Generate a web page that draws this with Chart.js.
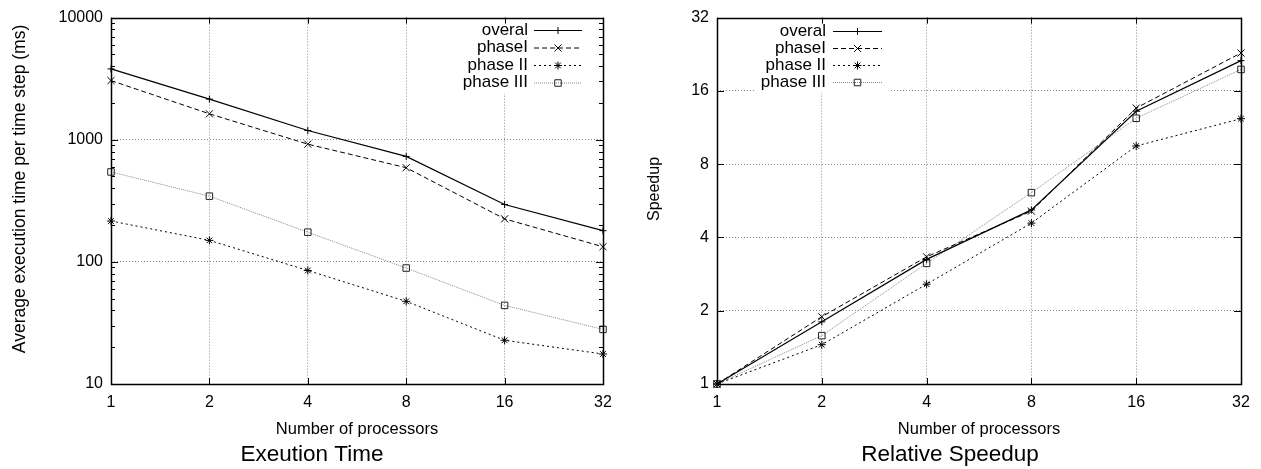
<!DOCTYPE html>
<html><head><meta charset="utf-8">
<script src="https://cdn.jsdelivr.net/npm/chart.js@4/dist/chart.umd.min.js"></script>
<style>
html,body{margin:0;padding:0;background:#fff;width:1261px;height:469px;overflow:hidden}
canvas{position:absolute;top:0}
#c1{left:0}
#c2{left:640px}
</style></head><body>
<canvas id="c1" width="640" height="469" style="width:640px;height:469px"></canvas>
<canvas id="c2" width="621" height="469" style="width:621px;height:469px"></canvas>
<script>
// ---------- data ----------
const processors = ['1', '2', '4', '8', '16', '32'];
const seriesNames = ['overal', 'phaseI', 'phase II', 'phase III'];

const timeOverall  = [3800, 2150, 1190, 730, 295, 180];
const timePhaseI   = [3050, 1630, 920, 590, 225, 133];
const timePhaseII  = [216, 150, 85, 47.5, 22.8, 17.6];
const timePhaseIII = [545, 345, 175, 89, 44, 28];

const speedupOverall  = [1, 1.80, 3.25, 5.19, 13.2, 21.3];
const speedupPhaseI   = [1, 1.89, 3.33, 5.13, 13.6, 22.9];
const speedupPhaseII  = [1, 1.45, 2.57, 4.58, 9.5, 12.3];
const speedupPhaseIII = [1, 1.58, 3.13, 6.11, 12.35, 19.6];

const timeTicks = [10, 100, 1000, 10000];
const speedupTicks = [1, 2, 4, 8, 16, 32];

// ---------- styles ----------
const FONT = '"Liberation Sans", Arial, Helvetica, sans-serif';
Chart.defaults.font.family = FONT;
Chart.defaults.color = '#000';
const GRID = '#8a8a8a';
const seriesStyle = [
  {color: '#000', line: '#000', dash: [], point: 'cross', r: 3.5, w: 1.2},
  {color: '#000', line: '#000', dash: [5, 3], point: 'crossRot', r: 5, w: 1},
  {color: '#000', line: '#000', dash: [2, 3], point: 'star', r: 4, w: 1},
  {color: '#222', line: '#888', dash: [1, 1], point: 'rect', r: 4.6, w: 1}
];

function makeDatasets(arrs) {
  return arrs.map((d, i) => ({
    label: seriesNames[i],
    data: d,
    borderColor: seriesStyle[i].line,
    borderWidth: seriesStyle[i].w,
    borderDash: seriesStyle[i].dash,
    pointStyle: seriesStyle[i].point,
    pointRadius: seriesStyle[i].r,
    pointBorderColor: seriesStyle[i].color,
    pointBackgroundColor: 'rgba(0,0,0,0)',
    pointBorderWidth: 1,
    tension: 0,
    fill: false,
    clip: false
  }));
}

function drawMarker(ctx, style, x, y, r) {
  ctx.beginPath();
  const d = r * Math.SQRT1_2;
  if (style === 'cross' || style === 'star') {
    ctx.moveTo(x - r, y); ctx.lineTo(x + r, y);
    ctx.moveTo(x, y - r); ctx.lineTo(x, y + r);
  }
  if (style === 'crossRot' || style === 'star') {
    ctx.moveTo(x - d, y - d); ctx.lineTo(x + d, y + d);
    ctx.moveTo(x - d, y + d); ctx.lineTo(x + d, y - d);
  }
  if (style === 'rect') {
    ctx.rect(x - d, y - d, 2 * d, 2 * d);
  }
  ctx.stroke();
}

const legendPlugin = {
  id: 'gpLegend',
  beforeDatasetsDraw(chart, args, o) {
    const ctx = chart.ctx;
    ctx.save();
    ctx.font = '17px ' + FONT;
    const maxW = Math.max(...seriesNames.map(s => ctx.measureText(s).width));
    ctx.fillStyle = '#fff';
    const y0 = o.y0, n = seriesNames.length;
    ctx.fillRect(o.textRight - maxW - 6, y0 - 11, o.s1 - (o.textRight - maxW - 6) + 8, (n - 1) * o.step + 22);
    seriesNames.forEach((name, i) => {
      const y = y0 + i * o.step;
      const st = seriesStyle[i];
      ctx.fillStyle = '#000';
      ctx.textAlign = 'right';
      ctx.textBaseline = 'middle';
      ctx.fillText(name, o.textRight, y);
      ctx.strokeStyle = st.line;
      ctx.lineWidth = st.w;
      ctx.setLineDash(st.dash);
      ctx.beginPath();
      ctx.moveTo(o.s0, y + 0.5); ctx.lineTo(o.s1, y + 0.5);
      ctx.stroke();
      ctx.setLineDash([]);
      ctx.strokeStyle = st.color;
      ctx.lineWidth = 1;
      drawMarker(ctx, st.point, (o.s0 + o.s1) / 2, y + 0.5, st.r);
    });
    ctx.restore();
  }
};

const framePlugin = {
  id: 'gpFrame',
  afterDatasetsDraw(chart, args, o) {
    const {ctx, chartArea: a, scales: {x, y}} = chart;
    ctx.save();
    ctx.setLineDash([]);
    ctx.strokeStyle = '#000';
    const line = (x1, y1, x2, y2) => { ctx.beginPath(); ctx.moveTo(x1, y1); ctx.lineTo(x2, y2); ctx.stroke(); };
    ctx.lineWidth = 1;
    x.ticks.forEach((t, i) => {
      const px = Math.round(x.getPixelForTick(i)) + 0.5;
      line(px, a.bottom, px, a.bottom - 6);
      line(px, a.top, px, a.top + 6);
    });
    y.ticks.forEach(t => {
      const py = Math.round(y.getPixelForValue(t.value)) + 0.5;
      line(a.left, py, a.left + 7, py);
      line(a.right, py, a.right - 7, py);
    });
    if (o.minor) {
      for (let dec = y.min; dec < y.max; dec *= 10) {
        for (let k = 2; k <= 9; k++) {
          const py = Math.round(y.getPixelForValue(dec * k)) + 0.5;
          line(a.left, py, a.left + 4, py);
          line(a.right, py, a.right - 4, py);
        }
      }
    }
    ctx.lineWidth = 1.5;
    ctx.strokeRect(Math.round(a.left) + 0.5, Math.round(a.top) + 0.5, Math.round(a.right - a.left), Math.round(a.bottom - a.top));
    // captions
    ctx.fillStyle = '#000';
    ctx.textAlign = 'center';
    ctx.textBaseline = 'middle';
    const cx = (a.left + a.right) / 2;
    ctx.font = '16.5px ' + FONT;
    ctx.fillText('Number of processors', cx, 429);
    ctx.font = '22.5px ' + FONT;
    ctx.fillText(o.caption, o.captionX, 455);
    ctx.font = o.yTitleSize + 'px ' + FONT;
    ctx.translate(o.yTitleX, 189);
    ctx.rotate(-Math.PI / 2);
    ctx.fillText(o.yTitle, 0, 0);
    ctx.restore();
  }
};

function makeChart(id, datasets, yMin, yMax, yTicks, leftW, rightPad, legendOpts, frameOpts) {
  return new Chart(document.getElementById(id), {
    type: 'line',
    data: {labels: processors, datasets},
    plugins: [legendPlugin, framePlugin],
    options: {
      responsive: false,
      animation: false,
      events: [],
      layout: {padding: {top: 16, right: rightPad, bottom: 0, left: 0}},
      plugins: {legend: {display: false}, tooltip: {enabled: false}, title: {display: false},
        gpLegend: legendOpts, gpFrame: frameOpts},
      scales: {
        x: {
          type: 'category', offset: false,
          grid: {offset: false, drawTicks: false,
            color: c => (c.index === 0 || c.index === processors.length - 1) ? 'rgba(0,0,0,0)' : GRID},
          border: {display: false, dash: [1, 2]},
          ticks: {font: {size: 16}, padding: 9, maxRotation: 0, autoSkip: false},
          afterFit: s => { s.height = 85; }
        },
        y: {
          type: 'logarithmic', min: yMin, max: yMax,
          afterBuildTicks: s => { s.ticks = yTicks.map(v => ({value: v})); },
          grid: {drawTicks: false,
            color: c => (c.tick && (c.tick.value === yMin || c.tick.value === yMax)) ? 'rgba(0,0,0,0)' : GRID},
          border: {display: false, dash: [1, 2]},
          ticks: {font: {size: 16}, padding: 8, callback: v => String(v)},
          afterFit: s => { s.width = leftW; }
        }
      }
    }
  });
}

makeChart('c1',
  makeDatasets([timeOverall, timePhaseI, timePhaseII, timePhaseIII]),
  10, 10000, timeTicks, 111, 37,
  {textRight: 528, s0: 534, s1: 582, y0: 30, step: 17.5},
  {minor: true, caption: 'Exeution Time', captionX: 312, yTitle: 'Average execution time per time step (ms)', yTitleX: 20, yTitleSize: 17.5});

makeChart('c2',
  makeDatasets([speedupOverall, speedupPhaseI, speedupPhaseII, speedupPhaseIII]),
  1, 32, speedupTicks, 77, 20,
  {textRight: 186, s0: 193, s1: 242, y0: 31, step: 17},
  {minor: false, caption: 'Relative Speedup', captionX: 310, yTitle: 'Speedup', yTitleX: 15, yTitleSize: 16});
</script>
</body></html>
